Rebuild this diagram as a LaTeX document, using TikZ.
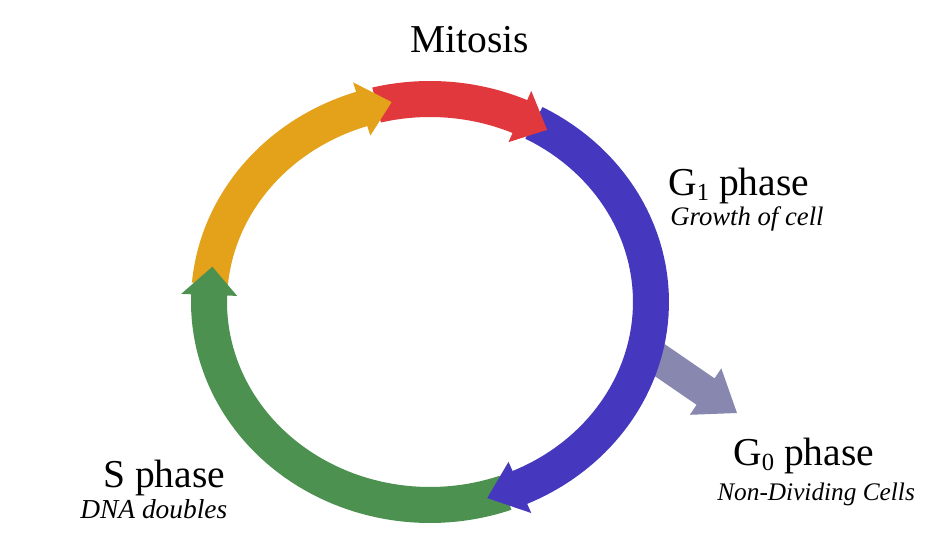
\documentclass[tikz,border=0pt]{standalone}
\usepackage{fontspec}
\setmainfont{Liberation Serif}
\definecolor{cred}{HTML}{E0383C}
\definecolor{corange}{HTML}{E3A21A}
\definecolor{cblue}{HTML}{4638BE}
\definecolor{cgreen}{HTML}{4C9150}
\definecolor{cgray}{HTML}{8787AF}
% body of a phase arrow between parametric angles #2 < #3
\newcommand{\cycbody}[3]{%
  \fill[#1] plot[domain=0:1, samples=60] ({430+239*cos(#2+(#3-#2)*\x)},{302-221*sin(#2+(#3-#2)*\x)})
    -- plot[domain=0:1, samples=60] ({430+203*cos(#3+(#2-#3)*\x)},{302-185*sin(#3+(#2-#3)*\x)}) -- cycle;}
% head of a phase arrow: base angle #2, tip angle #3
\newcommand{\cychead}[3]{%
  \fill[#1] ({430+249*cos(#2)},{302-231*sin(#2)}) -- ({430+221*cos(#3)},{302-203*sin(#3)})
    -- ({430+193*cos(#2)},{302-175*sin(#2)}) -- cycle;}
\tikzset{
  phase/.style={anchor=base west, inner sep=0pt, font=\fontsize{22.5}{27}\selectfont},
  note/.style={anchor=base west, inner sep=0pt, font=\fontsize{15.2}{18}\selectfont\itshape}
}
\newcommand{\subidx}[1]{\raisebox{-0.28ex}{\fontsize{14}{14}\selectfont #1}}
\begin{document}
\begin{tikzpicture}[x=0.02cm, y=-0.02cm]
\fill[white] (0,0) rectangle (948,551);
\useasboundingbox (0,0) rectangle (948,551);
% G0 exit arrow (behind the cycle)
\coordinate (gA) at (654,336.8);
\coordinate (gB) at (714.6,378.4);
\coordinate (gC) at (721.3,368.4);
\coordinate (gT) at (737,413);
\coordinate (gD) at (689.9,414.8);
\coordinate (gE) at (696.6,404.8);
\coordinate (gF) at (636,363.2);
\fill[cgray] (gA) -- (gB) -- (gC) -- (gT) -- (gD) -- (gE) -- (gF) -- cycle;
% bodies
\cycbody{corange}{107}{175}
\cycbody{cred}{65}{104}
\cycbody{cblue}{-67}{62}
\cycbody{cgreen}{177}{290}
% heads
\cychead{corange}{108}{100}
\cychead{cred}{66}{58}
\cychead{cblue}{-66}{-75}
\cychead{cgreen}{178}{170}
% labels
\node[phase] (mit) at (410,52) {Mitosis};
\node[phase] (g1) at (668,195) {G\subidx{1} phase};
\node[note] (g1n) at (670,225) {Growth of cell};
\node[phase] (g0) at (733,465) {G\subidx{0} phase};
\node[note, font=\fontsize{14.4}{17}\selectfont\itshape] (g0n) at (717,500) {Non-Dividing Cells};
\node[phase] (s) at (103,487) {S phase};
\node[note, font=\fontsize{15.6}{18}\selectfont\itshape] (sn) at (80,518) {DNA doubles};
\end{tikzpicture}
\end{document}
